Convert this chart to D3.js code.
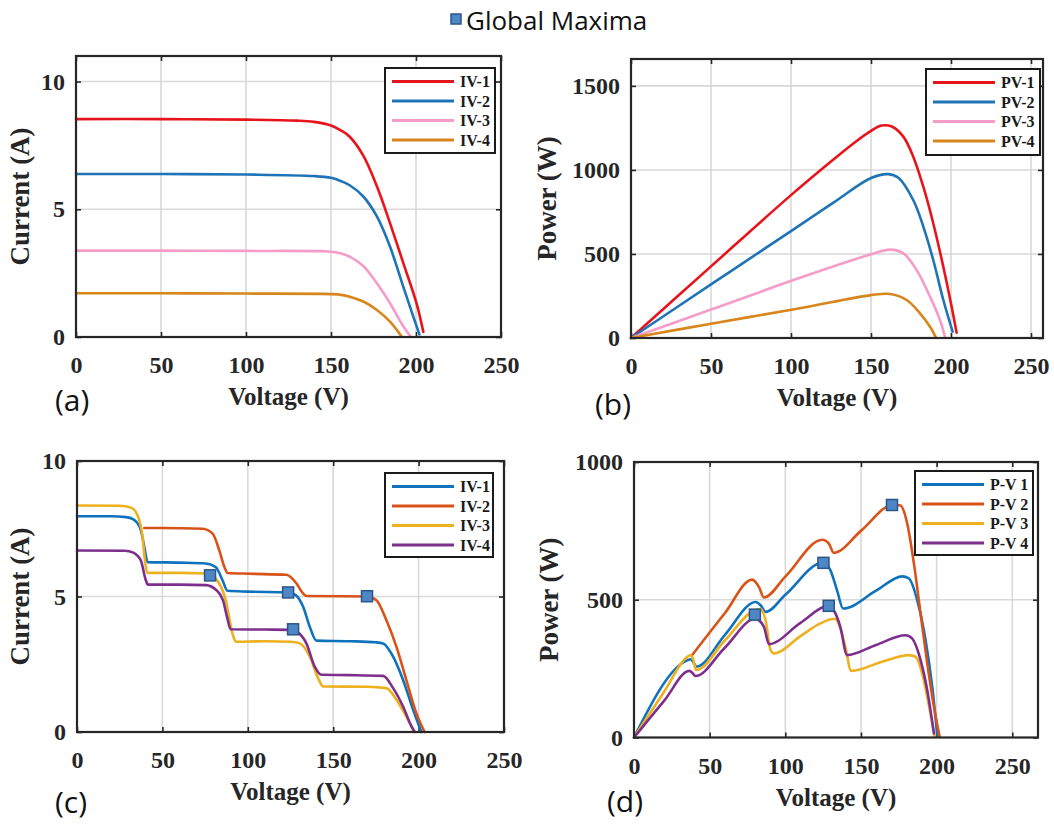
<!DOCTYPE html>
<html>
<head>
<meta charset="utf-8">
<script src="https://cdn.jsdelivr.net/npm/d3@7"></script>
<style>
  body { margin: 0; background: #fff; }
  svg { display: block; }
</style>
</head>
<body>
<svg id="fig" width="1054" height="826"></svg>
<script>
// ---------- Data: [voltage (V), value] pairs ----------

// (a) I-V curves under uniform irradiance
const ivNamesA = ["IV-1", "IV-2", "IV-3", "IV-4"];
const ivA1 = [[0,8.53],[50,8.53],[100,8.51],[130,8.47],[140,8.42],[150,8.28],[156,8.08],[161,7.84],[169,7.1],[177,5.9],[184.7,4.46],[192.5,2.9],[200.4,1.3],[204.3,0.2]];
const ivA2 = [[0,6.38],[50,6.38],[100,6.36],[140,6.3],[150,6.23],[156,6.1],[161,5.94],[169,5.5],[177,4.72],[184.7,3.54],[192.5,1.97],[198.4,0.8],[202,0.1]];
const ivA3 = [[0,3.38],[50,3.38],[100,3.37],[145,3.36],[150,3.34],[156,3.27],[161,3.15],[169,2.78],[177,2.1],[184.7,1.32],[192.5,0.42],[196.8,0.02]];
const ivA4 = [[0,1.71],[50,1.71],[100,1.70],[145,1.69],[150,1.68],[156,1.65],[161,1.58],[169,1.39],[177,1.06],[184.7,0.6],[191.5,0.02]];

// (b) P-V curves under uniform irradiance
const pvNamesB = ["PV-1", "PV-2", "PV-3", "PV-4"];
const pvB1 = [[0,0],[50,426],[100,850],[126.5,1062],[140,1165],[150,1232],[156.5,1264],[163,1258],[170.2,1198],[176.4,1079],[182.7,900],[188.9,683],[195.2,424],[200.4,186],[203.5,32]];
const pvB2 = [[0,0],[50,319],[100,636],[126.5,805],[150,952],[160.8,975],[167.1,953],[176.4,821],[182.7,663],[188.9,464],[195.2,226],[201,38]];
const pvB3 = [[0,0],[50,169],[105.6,358],[150,498],[161.9,526],[170.2,504],[178.5,405],[186.9,246],[193.1,107],[196.3,4]];
const pvB4 = [[0,0],[50,85],[105.6,177],[150,255],[161.9,262],[172.3,226],[180.6,147],[186.9,67],[190.6,2]];

// (c) I-V curves under partial shading
const ivNamesC = ["IV-1", "IV-2", "IV-3", "IV-4"];
const ivC1 = [[0,7.96],[20,7.96],[28.7,7.93],[33,7.85],[35.5,7.7],[37.4,7.44],[39.5,6.8],[41.3,6.27],[60,6.25],[75.4,6.22],[81.3,6.08],[85.2,5.6],[88.1,5.21],[100,5.18],[123.6,5.15],[128,5.05],[132.4,4.62],[136.3,3.88],[140.2,3.37],[160,3.35],[175,3.31],[179.2,3.27],[185.1,2.78],[190.9,1.92],[196.8,0.82],[201.6,0]];
const ivC2 = [[39.4,7.53],[50,7.53],[73.5,7.5],[79.4,7.32],[83.3,6.7],[86.3,6.09],[88.2,5.87],[101,5.84],[122.6,5.8],[128.5,5.48],[132.4,5.11],[134.3,5.02],[169.8,5.0],[175.3,4.86],[181.1,4.13],[187,3.15],[192.8,1.92],[198.6,0.7],[203.5,0]];
const ivC3 = [[0,8.36],[25,8.35],[31.6,8.28],[35.5,7.99],[38.4,7.19],[40,6.21],[41.3,5.87],[60,5.87],[75.4,5.85],[77.9,5.8],[81.3,5.66],[87.1,4.86],[91,3.64],[93,3.33],[110,3.35],[125,3.33],[130.4,3.27],[136.3,2.78],[141.2,1.98],[144.1,1.68],[170,1.67],[181.1,1.62],[187,1.19],[192.8,0.57],[197.7,0]];
const ivC4 = [[0,6.70],[28,6.69],[33,6.62],[35.5,6.5],[37.4,6.33],[40.3,5.6],[41.5,5.44],[60,5.44],[75.4,5.42],[81.3,5.25],[85.5,4.86],[88,4.2],[90,3.79],[110,3.78],[126.5,3.77],[128.5,3.71],[134.3,3.27],[139.2,2.41],[143.1,2.11],[160,2.1],[179.2,2.07],[185.1,1.62],[190.9,0.94],[195.8,0.21],[197.7,0]];
// global maximum points on (c): voltage, current
const ivMaxV = [123.6, 169.8, 77.9, 126.5];
const ivMaxI = [5.15, 5.01, 5.78, 3.79];

// (d) P-V curves under partial shading
const pvNamesD = ["P-V 1", "P-V 2", "P-V 3", "P-V 4"];
const pvD1 = [[0,0],[35.1,280],[37.3,284],[39,275],[41.3,257],[60,372],[80.4,492],[83.7,480],[87,456],[100,518],[125,635],[129.8,607],[134.2,534],[138.2,468],[160,533],[177.3,585],[181.7,577],[187.2,498],[192.7,353],[197.1,184],[200.5,3]];
const pvD2 = [[38.4,299],[60,451],[78.1,573],[82.6,546],[85.9,508],[100,584],[124.5,718],[128.9,703],[132,670],[150,750],[171.3,845],[176.2,842],[180.6,776],[185,631],[189.4,450],[193.8,269],[198.2,112],[202,3]];
const pvD3 = [[0,0],[20,167],[35,292],[37.3,299],[39,285],[41.1,245],[60,352],[79.9,462],[83.6,466],[87,425],[90.3,317],[92.5,305],[110,368],[123.2,414],[131.5,430],[133.1,430],[136.4,395],[139.7,329],[143.5,242],[165,277],[181.7,299],[186.1,293],[190.5,232],[193.8,148],[197.1,51],[198.7,3]];
const pvD4 = [[0,0],[20,134],[36.6,242],[38.5,235],[40.6,223],[60,326],[80.4,432],[82.6,425],[86,400],[89.2,339],[110,416],[128.7,478],[132,462],[136.4,401],[140.8,299],[160,336],[179.5,371],[183.9,359],[189.4,281],[193.8,172],[198.2,15]];
// global maximum points on (d): voltage, power
const pvMaxV = [125.2, 170.5, 79.9, 128.7];
const pvMaxP = [634, 844, 446, 478];

// axis ticks
const voltageTicks = [0, 50, 100, 150, 200, 250];
const currentTicks = [0, 5, 10];
const powerTicksB = [0, 500, 1000, 1500];
const powerTicksD = [0, 500, 1000];

// ---------- Styling ----------
const uniformColors = ["#e8141b", "#1f74b8", "#f59cc8", "#d8861c"];
const shadedColors  = ["#0f72bd", "#d95319", "#edb120", "#7e2f8e"];
const markerFill = "#4f86c6", markerStroke = "#2a5688";
const serif = "'Liberation Serif', 'Times New Roman', serif";
const sans = "'Open Sans', 'Noto Sans', sans-serif";

const svg = d3.select("#fig");
svg.append("rect").attr("width", 1054).attr("height", 826).attr("fill", "#fff");

const smooth = d3.curveCatmullRom.alpha(0.5);
const stepped = d3.curveMonotoneX;

const panels = [
  { tag: "(a)", tagX: 55, tagY: 411,
    box: { l: 76, t: 56, r: 501, b: 337 }, xMax: 250, yMax: 11,
    xTicks: voltageTicks, yTicks: currentTicks, yLabel: "Current (A)", yLabelX: 29,
    series: [ivA1, ivA2, ivA3, ivA4], names: ivNamesA, colors: uniformColors, curve: smooth,
    legend: { x: 385, y: 68, w: 110, h: 85 } },
  { tag: "(b)", tagX: 595, tagY: 415,
    box: { l: 631, t: 59, r: 1043, b: 338 }, xMax: 257.5, yMax: 1660,
    xTicks: voltageTicks, yTicks: powerTicksB, yLabel: "Power (W)", yLabelX: 556,
    series: [pvB1, pvB2, pvB3, pvB4], names: pvNamesB, colors: uniformColors, curve: smooth,
    legend: { x: 926, y: 69, w: 114, h: 86 } },
  { tag: "(c)", tagX: 55, tagY: 813,
    box: { l: 77, t: 461, r: 504, b: 732 }, xMax: 250, yMax: 10,
    xTicks: voltageTicks, yTicks: currentTicks, yLabel: "Current (A)", yLabelX: 29,
    series: [ivC1, ivC2, ivC3, ivC4], names: ivNamesC, colors: shadedColors, curve: stepped,
    legend: { x: 385, y: 473, w: 108, h: 84 },
    maxV: ivMaxV, maxY: ivMaxI },
  { tag: "(d)", tagX: 607, tagY: 812,
    box: { l: 634, t: 462, r: 1038, b: 737.5 }, xMax: 267, yMax: 1000,
    xTicks: voltageTicks, yTicks: powerTicksD, yLabel: "Power (W)", yLabelX: 558,
    series: [pvD1, pvD2, pvD3, pvD4], names: pvNamesD, colors: shadedColors, curve: stepped,
    legend: { x: 915, y: 471, w: 118, h: 84 },
    maxV: pvMaxV, maxY: pvMaxP }
];

function drawPanel(p) {
  const { l, t, r, b } = p.box;
  const x = d3.scaleLinear().domain([0, p.xMax]).range([l, r]);
  const y = d3.scaleLinear().domain([0, p.yMax]).range([b, t]);
  const g = svg.append("g");

  // grid
  g.append("g").selectAll("line").data(p.xTicks.filter(v => v > 0 && v < p.xMax)).join("line")
    .attr("x1", d => x(d)).attr("x2", d => x(d)).attr("y1", t).attr("y2", b)
    .attr("stroke", "#d9d9d9").attr("stroke-width", 1.6);
  g.append("g").selectAll("line").data(p.yTicks.filter(v => v > 0 && v < p.yMax)).join("line")
    .attr("x1", l).attr("x2", r).attr("y1", d => y(d)).attr("y2", d => y(d))
    .attr("stroke", "#d9d9d9").attr("stroke-width", 1.6);

  // axes with inward ticks on all four sides
  const fmt = d3.format("d");
  const styleAxis = sel => {
    sel.select(".domain").remove();
    sel.selectAll(".tick line").attr("stroke", "#262626").attr("stroke-width", 1.6);
    sel.selectAll(".tick text")
      .style("font-family", serif).style("font-weight", "bold").style("font-size", "24px")
      .style("fill", "#262626");
  };
  g.append("g").attr("transform", `translate(0,${b})`)
    .call(d3.axisBottom(x).tickValues(p.xTicks).tickFormat(fmt).tickSizeInner(-5).tickSizeOuter(0).tickPadding(19))
    .call(styleAxis);
  g.append("g").attr("transform", `translate(0,${t})`)
    .call(d3.axisTop(x).tickValues(p.xTicks).tickSizeInner(-5).tickSizeOuter(0).tickFormat(""))
    .call(styleAxis);
  g.append("g").attr("transform", `translate(${l},0)`)
    .call(d3.axisLeft(y).tickValues(p.yTicks).tickFormat(fmt).tickSizeInner(-5).tickSizeOuter(0).tickPadding(11))
    .call(styleAxis);
  g.append("g").attr("transform", `translate(${r},0)`)
    .call(d3.axisRight(y).tickValues(p.yTicks).tickSizeInner(-5).tickSizeOuter(0).tickFormat(""))
    .call(styleAxis);

  // curves
  const line = d3.line().x(d => x(d[0])).y(d => y(d[1])).curve(p.curve);
  g.append("g").selectAll("path").data(p.series).join("path")
    .attr("d", line).attr("fill", "none")
    .attr("stroke", (d, i) => p.colors[i]).attr("stroke-width", 2.6)
    .attr("stroke-linejoin", "round").attr("stroke-linecap", "round");

  // plot frame
  g.append("rect").attr("x", l).attr("y", t).attr("width", r - l).attr("height", b - t)
    .attr("fill", "none").attr("stroke", "#262626").attr("stroke-width", 2.2);

  // global maxima markers
  if (p.maxV) {
    g.append("g").selectAll("rect").data(p.maxV).join("rect")
      .attr("x", (d) => x(d) - 5.5).attr("y", (d, i) => y(p.maxY[i]) - 5.5)
      .attr("width", 11).attr("height", 11)
      .attr("fill", markerFill).attr("stroke", markerStroke).attr("stroke-width", 1.5);
  }

  // legend
  const L = p.legend;
  const lg = g.append("g");
  lg.append("rect").attr("x", L.x).attr("y", L.y).attr("width", L.w).attr("height", L.h)
    .attr("fill", "#fff").attr("stroke", "#1a1a1a").attr("stroke-width", 2);
  const rows = lg.selectAll("g").data(p.names).join("g")
    .attr("transform", (d, i) => `translate(${L.x},${L.y + 13.5 + i * 19.5})`);
  rows.append("line").attr("x1", 7).attr("x2", 69).attr("y1", 0).attr("y2", 0)
    .attr("stroke", (d, i) => p.colors[i]).attr("stroke-width", 3);
  rows.append("text").attr("x", 75).attr("y", 5.5).text(d => d)
    .style("font-family", serif).style("font-weight", "bold").style("font-size", "16px").style("fill", "#1a1a1a");

  // axis titles
  g.append("text").attr("x", (l + r) / 2).attr("y", b + 68).attr("text-anchor", "middle")
    .style("font-family", serif).style("font-weight", "bold").style("font-size", "25px").style("fill", "#262626")
    .text("Voltage (V)");
  g.append("text").attr("transform", `translate(${p.yLabelX},${(t + b) / 2}) rotate(-90)`)
    .attr("text-anchor", "middle")
    .style("font-family", serif).style("font-weight", "bold").style("font-size", "27px").style("fill", "#262626")
    .text(p.yLabel);

  // panel tag
  g.append("text").attr("x", p.tagX).attr("y", p.tagY)
    .style("font-family", sans).style("font-size", "30px").style("fill", "#111").text(p.tag);
}

panels.forEach(drawPanel);

// figure-level legend for the maxima marker
const maximaKey = svg.append("g");
maximaKey.append("rect").attr("x", 451).attr("y", 14).attr("width", 10).attr("height", 10)
  .attr("fill", markerFill).attr("stroke", markerStroke).attr("stroke-width", 1.5);
maximaKey.append("text").attr("x", 466).attr("y", 30)
  .style("font-family", sans).style("font-size", "26px").style("fill", "#111").text("Global Maxima");
</script>
</body>
</html>
